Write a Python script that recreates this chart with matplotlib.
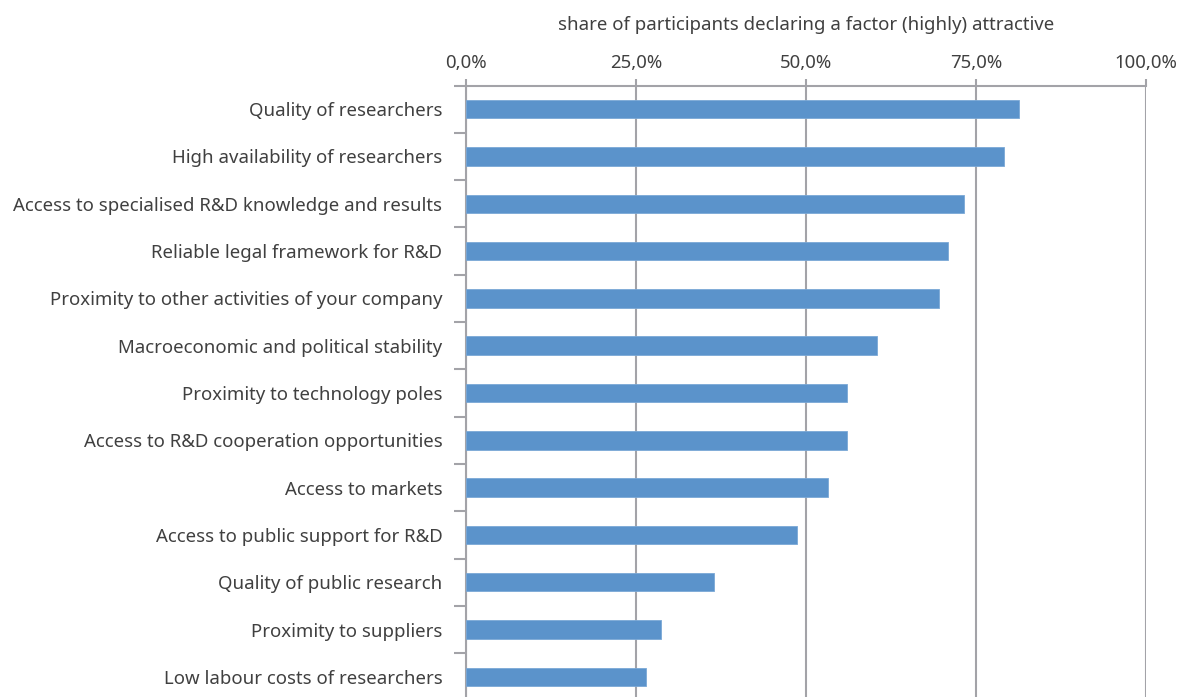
import matplotlib.pyplot as plt
import numpy as np

# Survey factors, top to bottom as in the chart
factors = [
    'Quality of researchers',
    'High availability of researchers',
    'Access to specialised R&D knowledge and results',
    'Reliable legal framework for R&D',
    'Proximity to other activities of your company',
    'Macroeconomic and political stability',
    'Proximity to technology poles',
    'Access to R&D cooperation opportunities',
    'Access to markets',
    'Access to public support for R&D',
    'Quality of public research',
    'Proximity to suppliers',
    'Low labour costs of researchers',
]
shares = [81.3, 79.1, 73.2, 70.9, 69.6, 60.4, 56.0, 56.0, 53.2, 48.7, 36.5, 28.7, 26.5]
x_ticks = [0, 25, 50, 75, 100]

BAR_COLOR = '#5b93cb'
GRID_COLOR = '#a3a3a8'
TEXT_COLOR = '#404040'
FS = 13.4

plt.rcParams['font.family'] = ['Noto Sans', 'DejaVu Sans']

fig = plt.figure(figsize=(11.83, 6.97), dpi=100)
ax = fig.add_axes([0.3939, -0.005, 0.5748, 0.8823])

y = np.arange(len(factors))
ax.barh(y, shares, height=0.39, color=BAR_COLOR, edgecolor='#7aa8d6',
        linewidth=0.6, zorder=3)

ax.set_ylim(len(factors) - 0.5, -0.5)
ax.set_xlim(0, 100)

# vertical grid lines
ax.set_xticks(x_ticks)
ax.set_xticklabels([f'{t:.1f}%'.replace('.', ',') for t in x_ticks])
ax.xaxis.tick_top()
ax.grid(axis='x', color=GRID_COLOR, linewidth=1.5, zorder=0)
ax.tick_params(axis='x', which='major', direction='out', length=5, width=1.5,
               color=GRID_COLOR, labelsize=FS, labelcolor=TEXT_COLOR, pad=4.5)

# category labels and separator ticks
ax.set_yticks(y)
ax.set_yticklabels(factors)
ax.set_yticks(np.arange(len(factors) + 1) - 0.5, minor=True)
ax.tick_params(axis='y', which='major', length=0, labelsize=FS,
               labelcolor=TEXT_COLOR, pad=17)
ax.tick_params(axis='y', which='minor', direction='out', length=9, width=1.5,
               color=GRID_COLOR)

for side in ['bottom', 'right']:
    ax.spines[side].set_visible(False)
for side in ['top', 'left']:
    ax.spines[side].set_color(GRID_COLOR)
    ax.spines[side].set_linewidth(1.5)

ax.xaxis.set_label_position('top')
ax.set_xlabel('share of participants declaring a factor (highly) attractive',
              fontsize=FS, color=TEXT_COLOR, labelpad=17.5)

fig.savefig('out.png', dpi=100)
